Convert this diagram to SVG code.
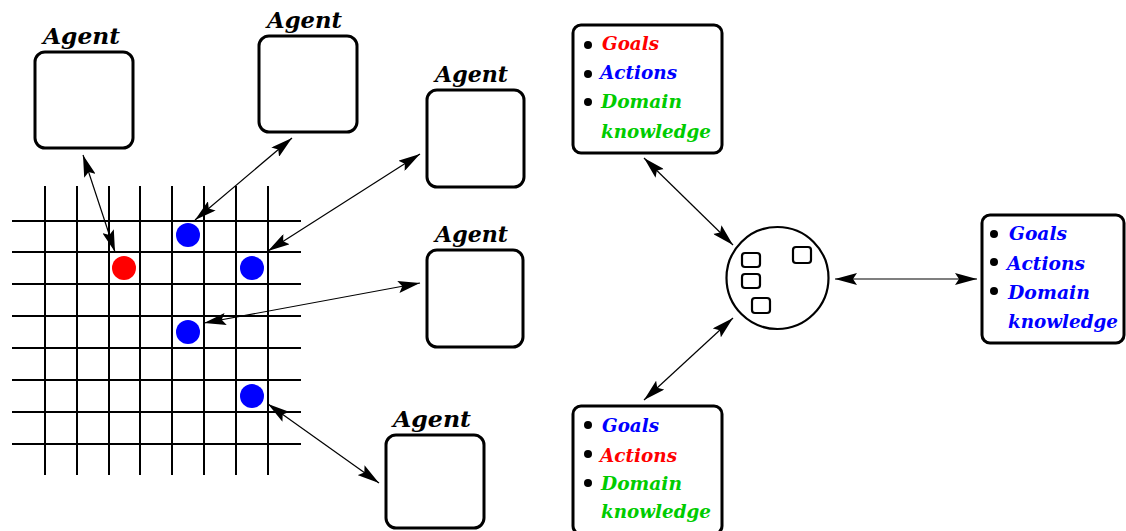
<svg xmlns="http://www.w3.org/2000/svg" width="1126" height="531" viewBox="0 0 1126 531">
  <style>
    .box { fill: #fff; stroke: #000; stroke-width: 3; }
    .grid line { stroke: #000; stroke-width: 2; }
    .conn line { stroke: #000; stroke-width: 1.2; marker-start: url(#head); marker-end: url(#head); }
    .lbl { font-family: "DejaVu Serif", "Liberation Serif", serif; font-weight: bold; font-style: italic; font-size: 22px; fill: #000; }
    .item { font-family: "DejaVu Serif", "Liberation Serif", serif; font-weight: bold; font-style: italic; font-size: 19px; }
    .red { fill: #ff0000; }
    .blue { fill: #0000ff; }
    .green { fill: #00cc00; }
    .dot { fill: #000; }
    .tok { fill: #fff; stroke: #000; stroke-width: 2.2; }
  </style>
  <defs>
    <marker id="head" markerUnits="userSpaceOnUse" markerWidth="24" markerHeight="12" refX="22" refY="6" orient="auto-start-reverse">
      <path d="M0,0 L22,6 L0,12 L4,6 z" fill="#000"/>
    </marker>
  </defs>

  <rect width="1126" height="531" fill="#fff"/>

  <!-- environment grid -->
  <g id="grid" class="grid">
    <line x1="45" y1="186" x2="45" y2="475"/>
    <line x1="77" y1="186" x2="77" y2="475"/>
    <line x1="109" y1="186" x2="109" y2="475"/>
    <line x1="140" y1="186" x2="140" y2="475"/>
    <line x1="172" y1="186" x2="172" y2="475"/>
    <line x1="204" y1="186" x2="204" y2="475"/>
    <line x1="236" y1="186" x2="236" y2="475"/>
    <line x1="268" y1="186" x2="268" y2="475"/>
    <line x1="12" y1="221" x2="301" y2="221"/>
    <line x1="12" y1="252" x2="301" y2="252"/>
    <line x1="12" y1="284" x2="301" y2="284"/>
    <line x1="12" y1="316" x2="301" y2="316"/>
    <line x1="12" y1="348" x2="301" y2="348"/>
    <line x1="12" y1="380" x2="301" y2="380"/>
    <line x1="12" y1="412" x2="301" y2="412"/>
    <line x1="12" y1="444" x2="301" y2="444"/>
  </g>

  <!-- agent positions on the grid -->
  <g id="positions">
    <circle cx="124" cy="268" r="12" fill="#ff0000"/>
    <circle cx="188" cy="235" r="12" fill="#0000ff"/>
    <circle cx="252" cy="268" r="12" fill="#0000ff"/>
    <circle cx="188" cy="332" r="12" fill="#0000ff"/>
    <circle cx="252" cy="396" r="12" fill="#0000ff"/>
  </g>

  <!-- agents -->
  <g id="agent1">
    <text class="lbl" x="43" y="44" textLength="77" lengthAdjust="spacingAndGlyphs">Agent</text>
    <rect class="box" x="35" y="52" width="98" height="96" rx="10"/>
  </g>
  <g id="agent2">
    <text class="lbl" x="267" y="28" textLength="75" lengthAdjust="spacingAndGlyphs">Agent</text>
    <rect class="box" x="259" y="36" width="98" height="96" rx="10"/>
  </g>
  <g id="agent3">
    <text class="lbl" x="435" y="82" textLength="73" lengthAdjust="spacingAndGlyphs">Agent</text>
    <rect class="box" x="427" y="90" width="97" height="97" rx="10"/>
  </g>
  <g id="agent4">
    <text class="lbl" x="435" y="242" textLength="73" lengthAdjust="spacingAndGlyphs">Agent</text>
    <rect class="box" x="427" y="250" width="96" height="97" rx="10"/>
  </g>
  <g id="agent5">
    <text class="lbl" x="393" y="427" textLength="78" lengthAdjust="spacingAndGlyphs">Agent</text>
    <rect class="box" x="386" y="435" width="98" height="93" rx="10"/>
  </g>

  <!-- knowledge boxes -->
  <g id="kb-top">
    <rect class="box" x="573" y="25" width="149" height="128" rx="8"/>
    <circle class="dot" cx="588" cy="45" r="4"/>
    <circle class="dot" cx="588" cy="74" r="4"/>
    <circle class="dot" cx="588" cy="102" r="4"/>
    <text class="item red" x="602" y="50" textLength="57" lengthAdjust="spacingAndGlyphs">Goals</text>
    <text class="item blue" x="600" y="79" textLength="77" lengthAdjust="spacingAndGlyphs">Actions</text>
    <text class="item green" x="601" y="108" textLength="81" lengthAdjust="spacingAndGlyphs">Domain</text>
    <text class="item green" x="601" y="138" textLength="110" lengthAdjust="spacingAndGlyphs">knowledge</text>
  </g>

  <g id="kb-right">
    <rect class="box" x="982" y="215" width="142" height="128" rx="8"/>
    <circle class="dot" cx="994" cy="234" r="4"/>
    <circle class="dot" cx="994" cy="262" r="4"/>
    <circle class="dot" cx="994" cy="291" r="4"/>
    <text class="item blue" x="1009" y="240" textLength="58" lengthAdjust="spacingAndGlyphs">Goals</text>
    <text class="item blue" x="1007" y="270" textLength="78" lengthAdjust="spacingAndGlyphs">Actions</text>
    <text class="item blue" x="1008" y="299" textLength="82" lengthAdjust="spacingAndGlyphs">Domain</text>
    <text class="item blue" x="1008" y="328" textLength="110" lengthAdjust="spacingAndGlyphs">knowledge</text>
  </g>

  <g id="kb-bottom">
    <rect class="box" x="573" y="406" width="149" height="128" rx="8"/>
    <circle class="dot" cx="588" cy="425" r="4"/>
    <circle class="dot" cx="588" cy="454" r="4"/>
    <circle class="dot" cx="588" cy="483" r="4"/>
    <text class="item blue" x="602" y="432" textLength="57" lengthAdjust="spacingAndGlyphs">Goals</text>
    <text class="item red" x="600" y="462" textLength="77" lengthAdjust="spacingAndGlyphs">Actions</text>
    <text class="item green" x="601" y="490" textLength="81" lengthAdjust="spacingAndGlyphs">Domain</text>
    <text class="item green" x="601" y="518" textLength="110" lengthAdjust="spacingAndGlyphs">knowledge</text>
  </g>

  <!-- shared world -->
  <g id="world">
    <circle cx="777.5" cy="278" r="51" fill="#fff" stroke="#000" stroke-width="2.2"/>
    <rect class="tok" x="742" y="253" width="18" height="14" rx="3"/>
    <rect class="tok" x="742" y="274" width="18" height="14" rx="3"/>
    <rect class="tok" x="752" y="298" width="18" height="15" rx="3"/>
    <rect class="tok" x="793" y="247" width="18" height="16" rx="3"/>
  </g>

  <!-- connectors -->
  <g id="connectors" class="conn">
    <line x1="83" y1="155" x2="115" y2="252"/>
    <line x1="292" y1="138" x2="195" y2="220"/>
    <line x1="420" y1="154" x2="268" y2="251"/>
    <line x1="420" y1="283" x2="204" y2="323"/>
    <line x1="268" y1="404" x2="379" y2="483"/>
    <line x1="644" y1="158" x2="733" y2="245"/>
    <line x1="835" y1="279" x2="977" y2="279"/>
    <line x1="733" y1="318" x2="644" y2="400"/>
  </g>
</svg>
